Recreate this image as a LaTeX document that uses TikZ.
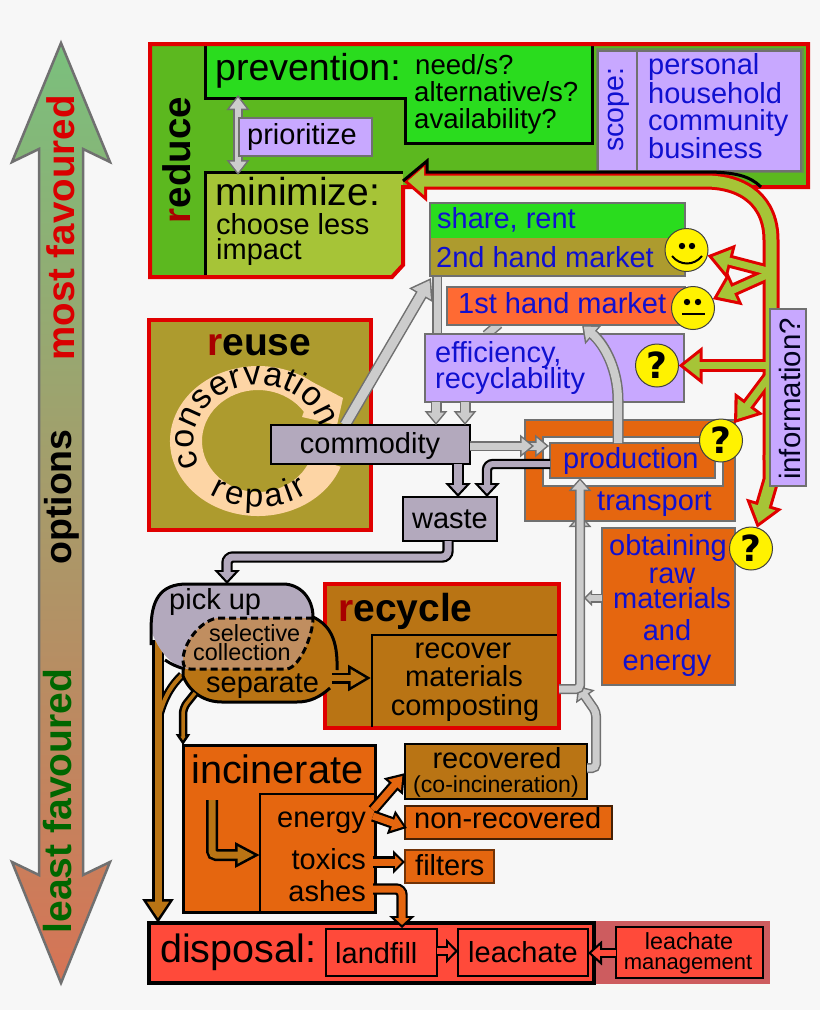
\documentclass[tikz,border=0pt]{standalone}
\usepackage{fontspec}
\setmainfont{Liberation Sans}
\newfontfamily\markfont{DejaVu Sans}
\usetikzlibrary{arrows.meta,calc,decorations.text}
\definecolor{paper}{HTML}{F7F7F7}
\definecolor{reducegreen}{HTML}{5CB81F}
\definecolor{freshgreen}{HTML}{2ADC1E}
\definecolor{leaf}{HTML}{A6C437}
\definecolor{lilac}{HTML}{C8A8FF}
\definecolor{ochre}{HTML}{AD9B2E}
\definecolor{burnt}{HTML}{E5660F}
\definecolor{umber}{HTML}{B97414}
\definecolor{coral}{HTML}{FF6A33}
\definecolor{hotred}{HTML}{FF4A3A}
\definecolor{dullred}{HTML}{CD5C5F}
\definecolor{frame}{HTML}{E00000}
\definecolor{rose}{HTML}{A80000}
\definecolor{ink}{HTML}{1010D0}
\definecolor{slate}{HTML}{B3A9BD}
\definecolor{tan}{HTML}{C08E60}
\definecolor{peach}{HTML}{FDD5A5}
\definecolor{pale}{HTML}{CCCCCC}
\definecolor{dim}{HTML}{707070}
\newcommand\fs[1]{\fontsize{#1}{#1}\selectfont}
\begin{document}
\begin{tikzpicture}[
	x=1pt, y=-1pt,
	rect/.style 2 args={anchor=north west, minimum width=#1pt, minimum height=#2pt, inner sep=0pt, outer sep=0pt},
	tx/.style={inner sep=0pt, anchor=base west, font=\fs{#1}},
	tx/.default=29,
	bl/.style={tx=#1, text=ink},
	bl/.default=29,
	dimbox/.style={draw=dim, line width=2pt},
	blackbox/.style={draw=black, line width=2.5pt},
	face/.style={circle, draw=black!75, line width=1pt, fill=yellow, minimum size=43pt, inner sep=0pt, outer sep=0pt},
	fatinner/.code n args={6}{
		\pgfmathsetmacro\fatS{(#6/2)/sqrt((#6/2)^2+(#5)^2)}
		\pgfmathsetmacro\fatD{#3/\fatS}
		\pgfmathsetmacro\fatL{#5-\fatD-#3}
		\pgfmathsetmacro\fatW{#6*\fatL/#5}
		\edef\fatdo{\noexpand\pgfkeysalso{draw=#2, line width=#4pt, shorten >=\fatD pt, -{Triangle[length=\fatL pt, width=\fatW pt]}}}
		\fatdo
	},
	fatouter/.code n args={6}{
		\pgfmathsetmacro\fatO{#4+2*#3}
		\edef\fatdo{\noexpand\pgfkeysalso{draw=#1, line width=\fatO pt, shorten >=0pt, -{Triangle[length=#5pt, width=#6pt]}}}
		\fatdo
	},
	fat/.style n args={6}{preaction={fatouter={#1}{#2}{#3}{#4}{#5}{#6}}, fatinner={#1}{#2}{#3}{#4}{#5}{#6}},
	grayfat/.style n args={3}{fat={dim}{pale}{1.5}{#1}{#2}{#3}},
	graybar/.style={preaction={draw=dim, line width=10pt}, draw=pale, line width=7pt},
	slatefat/.style={fat={black}{slate}{2.2}{#1}{14}{25}},
	brownfat/.style n args={3}{fat={black}{umber}{2.5}{#1}{#2}{#3}},
	orangefat/.style n args={3}{fat={black}{burnt}{2.2}{#1}{#2}{#3}},
	redfat/.style n args={3}{fat={black}{hotred}{2.2}{#1}{#2}{#3}},
]
\fill[paper] (0,0) rectangle (820,1010);
\useasboundingbox (0,0) rectangle (820,1010);

% scale of preference
\shade[draw=dim, line width=2.5pt, top color={rgb,255:red,122;green,192;blue,125}, bottom color={rgb,255:red,214;green,116;blue,86}]
	(61,43) -- (110,162) -- (83,149) -- (83,875) -- (110,862) -- (61,983) -- (12,862) -- (39,875) -- (39,149) -- (12,162) -- cycle;
\node[tx=36, rotate=90, anchor=base, font=\fs{38.5}\bfseries, text=red!85!black] (most) at (74,228) {most favoured};
\node[tx=36, rotate=90, anchor=base, font=\fs{37.5}\bfseries] (options) at (71,497) {options};
\node[tx=36, rotate=90, anchor=base, font=\fs{39}\bfseries, text=green!40!black] (least) at (71,801) {least favoured};

% reduce
\fill[reducegreen] (150,44) -- (808,44) -- (808,187) -- (403,187) -- (403,265) -- (392,277) -- (150,277) -- cycle;
\fill[freshgreen] (205,45) -- (592,45) -- (592,143) -- (405,143) -- (405,98) -- (205,98) -- cycle;
\fill[leaf] (205,172) -- (403,172) -- (403,265) -- (392,277) -- (205,277) -- cycle;
\draw[black, line width=3pt] (205,45) -- (205,98) -- (405,98) -- (405,143) -- (592,143) -- (592,45);
\draw[black, line width=3pt] (205,277) -- (205,172) -- (403,172);
\draw[frame, line width=4pt] (150,44) -- (808,44) -- (808,187) -- (403,187) -- (403,265) -- (392,277) -- (150,277) -- cycle;
\coordinate (minimize) at (403,181);
\coordinate (prevention) at (238,95);
\coordinate (minimizetop) at (238,175);
\coordinate (priomid) at (238,135);
\draw[grayfat={6.5}{15}{22}] (priomid) -- (prevention);
\draw[grayfat={6.5}{15}{22}] (priomid) -- (minimizetop);
\node[rect={133}{38}, fill=lilac, dimbox] (prioritize) at (239,118) {};
\node[rect={208}{125}, fill=dim!60!reducegreen] (scopeback) at (596,48) {};
\node[rect={39}{120}, fill=lilac, dimbox] (scope) at (598,51) {};
\node[rect={164}{120}, fill=lilac, dimbox] (personal) at (637,51) {};
\node[tx=38.5, rotate=90, anchor=base, font=\fs{38.5}\bfseries] (reduce) at (190,160) {\textcolor{rose}{r}educe};
\node[tx=37.5] (preventiontxt) at (215,80) {prevention:};
\node[tx=27.6] (need) at (415,74) {need/s?};
\node[tx=27.6] (alternative) at (414,101) {alternative/s?};
\node[tx=27.6] (availability) at (414,128) {availability?};
\node[tx] (prioritizetxt) at (247,144) {prioritize};
\node[tx=39] (minimizetxt) at (215,205) {minimize:};
\node[tx] (choose) at (216,234) {choose less};
\node[tx] (impact) at (216,259) {impact};
\node[bl=28.5, rotate=90, anchor=base] (scopetxt) at (623,110) {scope:};
\node[bl] (personaltxt) at (648,74) {personal};
\node[bl] (household) at (648,103) {household};
\node[bl] (community) at (648,130) {community};
\node[bl] (business) at (648,158) {business};

% markets
\draw[graybar] (437,276) -- (437,335);
\draw[graybar] (486,335) -- (499,324);
\node[rect={255}{35}, fill=freshgreen] (share) at (430,203) {};
\node[rect={255}{38}, fill=ochre] (secondhand) at (430,238) {};
\draw[dim, line width=2pt] (share.north west) rectangle (secondhand.south east);
\node[rect={238}{38}, fill=coral, dimbox] (firsthand) at (447,287) {};
\node[rect={259}{68}, fill=lilac, dimbox] (efficiency) at (425,334) {};
\node[bl] (sharetxt) at (437,228) {share, rent};
\node[bl] (secondtxt) at (436,267) {2nd hand market};
\node[bl] (firsttxt) at (458,313) {1st hand market};
\node[bl] (efficiencytxt) at (435,362) {efficiency,};
\node[bl] (recyclability) at (435,388) {recyclability};

% reuse
\node[rect={222}{210}, fill=ochre, draw=frame, line width=4pt] (reuse) at (149,320) {};
\coordinate (turn) at (258,441);
\fill[peach] ($(turn)+(-20:88pt and 75pt)$) arc[start angle=-20, end angle=-308, x radius=88pt, y radius=75pt]
	-- (343,398) -- (337,425) -- (302,417) -- ($(turn)+(35:56pt and 51pt)$)
	arc[start angle=-325, end angle=-20, x radius=56pt, y radius=51pt] -- cycle;
\path[decorate, decoration={text along path, text align=fit to path, text={|\fs{34}|conservation}}]
	($(turn)+(206:64pt and 56pt)$) arc[start angle=206, end angle=14, x radius=64pt, y radius=56pt];
\path[decorate, decoration={text along path, text align=fit to path, text={|\fs{33}|repair}}]
	($(turn)+(234:82pt and 66pt)$) arc[start angle=234, end angle=308, x radius=82pt, y radius=66pt];
\node[tx=39, font=\fs{39}\bfseries] (reusetxt) at (207,355) {\textcolor{rose}{r}euse};

% production
\coordinate (joint) at (580,689);
\draw[grayfat={7}{13}{22}] (joint) -- (580,514);
\node[rect={210}{101}, fill=burnt, dimbox] (transport) at (525,420) {};
\node[rect={180}{49}, fill=paper, dimbox] (ring) at (543,437) {};
\node[rect={165}{35}, fill=burnt, dimbox] (production) at (550,443) {};
\node[bl] (productiontxt) at (563,468) {production};
\node[bl] (transporttxt) at (597,510) {transport};

% commodity and waste
\draw[grayfat={9}{20}{26}] (345,425) -- (431,278);
\node[rect={199}{39}, fill=slate, blackbox] (commodity) at (271,425) {};
\node[rect={94}{44}, fill=slate, blackbox] (waste) at (403,497) {};
\node[tx, anchor=base] (commoditytxt) at (370,453) {commodity};
\node[tx, anchor=base] (wastetxt) at (450,528) {waste};
\draw[grayfat={8}{14}{22}] (436,0 |- efficiency.south) -- (436,0 |- commodity.north);
\draw[grayfat={8}{14}{22}] (465,0 |- efficiency.south) -- (465,0 |- commodity.north);
\draw[grayfat={7}{14}{22}] (commodity.east |- 0,446) -- (549,446);
\draw[grayfat={7}{14}{22}] (commodity.east |- 0,446) -- (534,446);
\draw[grayfat={8}{15}{24}] (618,0 |- production.north) -- (618,400) .. controls (618,370) and (605,345) .. (582,0 |- firsthand.south);
\draw[slatefat=8] (458,0 |- commodity.south) -- (458,0 |- waste.north);
\draw[slatefat=6, rounded corners=6pt] (production.west |- 0,464) -- (487,464) -- (487,0 |- waste.north);

% raw materials
\node[rect={133}{157}, fill=burnt, dimbox] (obtaining) at (602,528) {};
\node[bl, anchor=base] (obtainingtxt) at (668,555) {obtaining};
\node[bl, anchor=base] (raw) at (672,583) {raw};
\node[bl, anchor=base] (materials) at (672,608) {materials};
\node[bl, anchor=base] (and) at (667,640) {and};
\node[bl, anchor=base] (energyobtained) at (667,670) {energy};

% recycle
\node[rect={234}{144}, fill=umber, draw=frame, line width=4pt] (recycle) at (325,584) {};
\draw[black, line width=2pt] (372,727) -- (372,635) -- (557,635);
\node[tx=39, font=\fs{39}\bfseries] (recycletxt) at (338,621) {\textcolor{rose}{r}ecycle};
\node[tx, anchor=base] (recover) at (463,658) {recover};
\node[tx, anchor=base] (materialsback) at (464,686) {materials};
\node[tx, anchor=base] (composting) at (465,715) {composting};

% gray return line
\node[rect={182}{55}, fill=umber, draw=black, line width=2pt] (recovered) at (405,744) {};
\draw[grayfat={7}{13}{22}, rounded corners=4pt] (recovered.east |- 0,768) -- (596,768) -- (596,712) -- (578,686);
\draw[grayfat={7}{13}{22}, rounded corners=4pt] (recycle.east |- joint) -- (joint) -- (580,0 |- production.south);
\draw[grayfat={6}{8}{16}] (obtaining.west |- 0,598) -- (584,598);

% collection
\draw[black, line width=8.5pt] (182,675) .. controls (172,685) and (165,695) .. (159,716);
\draw[brownfat={7}{24}{30}] (158,640) -- (158,923);
\draw[umber, line width=4pt] (182,675) .. controls (172,685) and (165,695) .. (159,716);
\fill[umber] (313,617) .. controls (330,625) and (338,640) .. (337,670) -- (330,688) .. controls (320,697) and (310,702) .. (297,702)
	-- (222,702) .. controls (205,702) and (190,693) .. (183,676) -- (183,660) -- (220,617) -- cycle;
\draw[black, line width=3pt] (313,617) .. controls (330,625) and (338,640) .. (337,670);
\draw[black, line width=3pt] (330,688) .. controls (320,697) and (310,702) .. (297,702)
	-- (222,702) .. controls (205,702) and (190,693) .. (183,676) -- (183,670);
\fill[slate] (151,630) .. controls (151,600) and (160,584) .. (187,584) -- (283,584) .. controls (300,584) and (313,598) .. (313,617)
	-- (290,669) -- (187,669) .. controls (170,665) and (158,650) .. (151,630) -- cycle;
\draw[black, line width=3pt] (151,645) -- (151,630) .. controls (151,600) and (160,584) .. (187,584) -- (283,584) .. controls (300,584) and (313,598) .. (313,617);
\draw[black, line width=3pt] (165,660) .. controls (171,664) and (177,667) .. (185,669);
\draw[fill=tan, line width=3pt, dash pattern=on 7pt off 4pt] (313,618) -- (217,618) .. controls (198,622) and (183,645) .. (183,660)
	.. controls (183,666) and (185,669) .. (190,669) -- (287,669) .. controls (300,667) and (313,635) .. (313,618) -- cycle;
\node[tx] (pickup) at (169,609) {pick up};
\node[tx=23.4] (selective) at (209,641) {selective};
\node[tx=23.4] (collection) at (193,660) {collection};
\node[tx] (separate) at (206,692) {separate};
\draw[brownfat={6}{23}{25}] (332,678) -- (371,678);
\draw[slatefat=7, rounded corners=6pt] (448,0 |- waste.south) -- (448,557) -- (227,557) -- (227,584);

% incinerate
\node[rect={192}{167}, fill=burnt, draw=black, line width=3pt] (incinerate) at (183,745) {};
\node[rect={115}{118}, draw=black, line width=2pt] (outputs) at (260,794) {};
\draw[brownfat={3.5}{11}{14}, rounded corners=6pt] (195,693) -- (183,708) -- (183,0 |- incinerate.north);
\node[tx=39.7] (incineratetxt) at (191,783) {incinerate};
\node[tx, anchor=base east] (energy) at (366,827) {energy};
\node[tx, anchor=base east] (toxics) at (366,869) {toxics};
\node[tx, anchor=base east] (ashes) at (366,901) {ashes};
\draw[brownfat={7}{25}{24}, rounded corners=4pt] (212,800) -- (212,855) -- (outputs.west |- 0,855);
\node[rect={207}{33}, fill=burnt, draw=black!70!burnt, line width=2pt] (nonrecovered) at (405,806) {};
\node[rect={89}{33}, fill=burnt, draw=black!50!burnt, line width=1.5pt] (filters) at (405,850) {};
\node[tx, anchor=base] (recoveredtxt) at (497,768) {recovered};
\node[tx=23.1, anchor=base] (coinc) at (496,792) {(co-incineration)};
\node[tx] (nonrecoveredtxt) at (414,828) {non-recovered};
\node[tx] (filterstxt) at (415,875) {filters};

% disposal
\node[rect={176}{63}, fill=dullred] (managementback) at (594,921) {};
\node[rect={445}{60}, fill=hotred, draw=black, line width=3.5pt] (disposal) at (149,923) {};
\node[rect={111}{47}, draw=black, line width=2pt] (landfill) at (326,929) {};
\node[rect={130}{47}, draw=black, line width=2pt] (leachate) at (458,929) {};
\node[rect={147}{51}, fill=hotred, draw=black, line width=2pt] (management) at (616,927) {};
\node[tx=39.5] (disposaltxt) at (160,962) {disposal:};
\node[tx] (landfilltxt) at (335,963) {landfill};
\node[tx] (leachatetxt) at (468,962) {leachate};
\node[tx=23.3, anchor=base] (leachatetwo) at (689,949) {leachate};
\node[tx=22, anchor=base] (managementtxt) at (688,969) {management};
\draw[redfat={6}{12}{24}] (landfill.east |- 0,951) -- (leachate.west |- 0,951);
\draw[redfat={6}{14}{24}] (management.west |- 0,953) -- (leachate.east |- 0,953);

% out of the furnace
\draw[orangefat={7}{18}{24}] (373,810) -- (405,773);
\draw[orangefat={7}{17}{24}] (373,816) -- (407,828);
\draw[orangefat={7}{12}{23}] (373,862) -- (filters.west |- 0,862);
\draw[orangefat={7}{12}{25}, rounded corners=6pt] (373,889) -- (402,889) -- (402,928);

% information
\node[face] (smile1) at (686.5,250) {};
\node[face] (smile2) at (693,308) {};
\node[face, font=\markfont\bfseries\fs{36}] (ask1) at (657,365.5) {?};
\node[face, font=\markfont\bfseries\fs{36}] (ask2) at (721,440.5) {?};
\node[face, font=\markfont\bfseries\fs{36}] (ask3) at (751,548.5) {?};
\foreach \lay in {fatouter,fatinner} {
	\draw[\lay={frame}{leaf}{3}{11}{24}{40}] (771,460) -- (771,240) .. controls (771,202) and (745,181) .. (705,181) -- (minimize);
	\draw[\lay={frame}{leaf}{3}{7}{25}{34}] (771,272) -- (smile1);
	\draw[\lay={frame}{leaf}{3}{7}{25}{34}] (771,273) -- (smile2);
	\draw[\lay={frame}{leaf}{3}{7}{24}{36}] (771,365.5) -- (ask1);
	\draw[\lay={frame}{leaf}{3}{7}{25}{34}] (771,374) -- (ask2);
	\draw[\lay={frame}{leaf}{3}{11}{25}{36}] (771,455) -- (771,480) -- (ask3);
}
\draw[black, line width=3pt] (minimize) -- (427,161) -- (427,172) -- (705,172) .. controls (735,172) and (750,176) .. (761,187);
\node[rect={36}{177}, fill=lilac, dimbox] (info) at (770,309) {};
\node[tx=29.4, rotate=90, anchor=base, text=black!85!ink] (infotxt) at (800,399) {information?};
\fill (682,246) circle[radius=3.2] (692,246) circle[radius=3.2];
\draw[black, line width=2pt] (672,256) .. controls (680,266) and (694,266) .. (702,256);
\fill (687,302) circle[radius=3.2] (698,302) circle[radius=3.2];
\draw[black, line width=2pt] (682,314) -- (705,314);
\end{tikzpicture}
\end{document}
